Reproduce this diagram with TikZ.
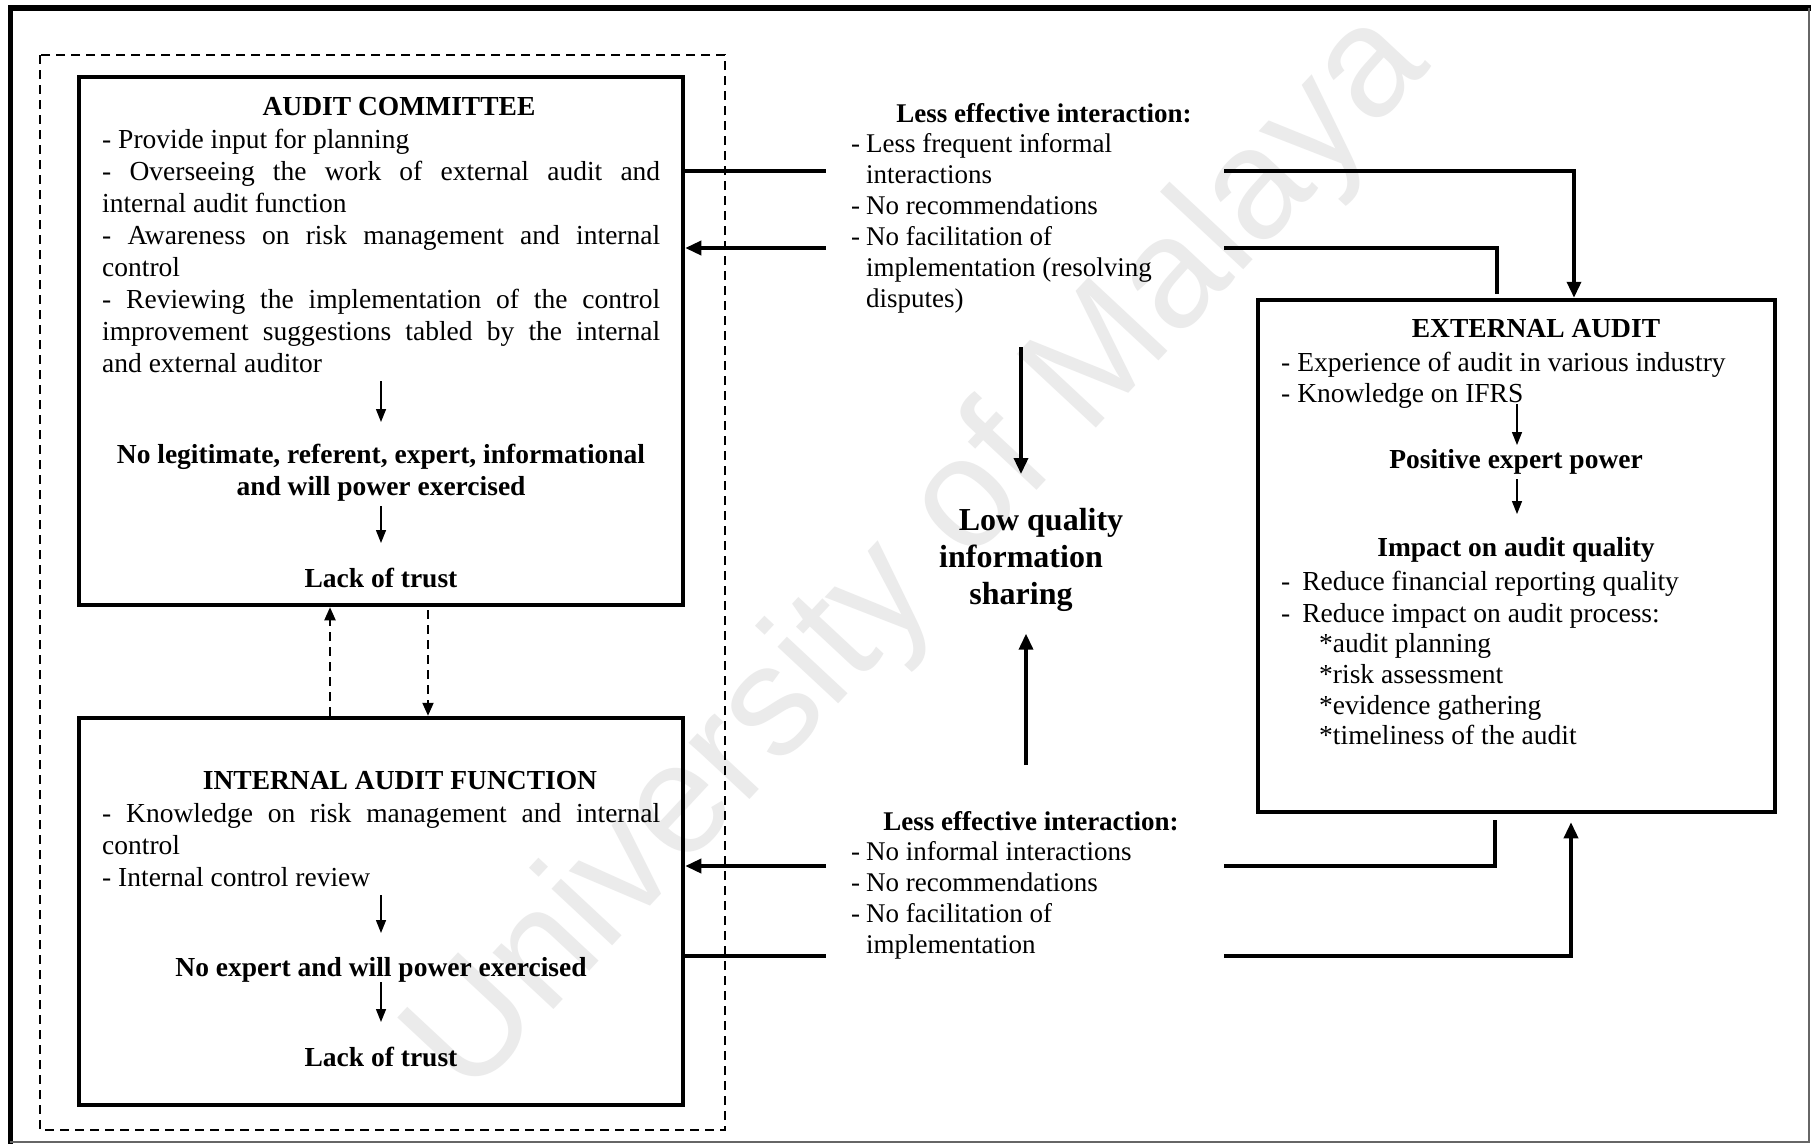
\documentclass[tikz,border=0pt]{standalone}
\usepackage{fontspec}
\setmainfont{Liberation Serif}
\newfontfamily\wmfont{Liberation Sans}
\usetikzlibrary{arrows.meta}

\tikzset{
  panel/.style={draw, line width=4.5pt, inner sep=0pt},
  conn/.style={line width=3.5pt},
  tip/.style={-{Triangle[length=16pt,width=14pt]}},
  flow/.style={line width=1.4pt, -{Triangle[length=13pt,width=10pt]}},
  dashlink/.style={line width=2pt, dash pattern=on 9pt off 6pt, -{Triangle[length=13pt,width=11pt]}},
  groupframe/.style={line width=2.2pt, dash pattern=on 9pt off 6pt},
  body/.style={font=\fontsize{27.5}{32}\selectfont, inner sep=0pt, anchor=base west},
  midbody/.style={font=\fontsize{27}{31}\selectfont, inner sep=0pt, anchor=base west},
  head/.style={font=\fontsize{27.5}{32}\selectfont\bfseries, inner sep=0pt, anchor=base},
}

\begin{document}
\begin{tikzpicture}[x=1pt,y=-1pt]
\useasboundingbox (0,0) rectangle (1811,1144);
\fill[white] (0,0) rectangle (1811,1144);

% watermark
\node[rotate=47, text=black!8, font=\wmfont\fontsize{157}{160}\selectfont, inner sep=0pt]
  (wm) at (921,556) {University of Malaya};

% page frame
\draw[line width=6pt] (10,8) -- (1811,8);
\draw[line width=5pt] (10,5) -- (10,1144);
\draw[line width=1.5pt, black!60] (1809,8) -- (1809,1142) -- (10,1142);

% dashed group around the two internal parties
\draw[groupframe] (40,55) rectangle (725,1130);

% panels
\node[panel, minimum width=604pt, minimum height=528pt] (ac) at (381,341) {};
\node[panel, minimum width=604pt, minimum height=387pt] (iaf) at (381,911.5) {};
\node[panel, minimum width=517pt, minimum height=512pt] (ea) at (1516.5,556) {};

% ---------- audit committee ----------
\node[head] (acT) at (399,115) {AUDIT COMMITTEE};
\node[body] (acL) at (102,148) {\begin{minipage}[t]{558pt}
\hyphenpenalty=10000 \tolerance=9999 \parskip=0pt
- Provide input for planning\par
- Overseeing the work of external audit and\linebreak internal audit function\par
- Awareness on risk management and internal\linebreak control\par
- Reviewing the implementation of the control\linebreak improvement suggestions tabled by the internal\linebreak and external auditor\par
\end{minipage}};
\coordinate (acA1) at (381,381);
\coordinate (acA2) at (381,422);
\draw[flow] (acA1) -- (acA2);
\node[head] (acP1) at (381,463) {No legitimate, referent, expert, informational};
\node[head] (acP2) at (381,495) {and will power exercised};
\coordinate (acA3) at (381,506);
\coordinate (acA4) at (381,543);
\draw[flow] (acA3) -- (acA4);
\node[head] (acTr) at (381,587) {Lack of trust};

% ---------- internal audit function ----------
\node[head] (iaT) at (400,789) {INTERNAL AUDIT FUNCTION};
\node[body] (iaL) at (102,822) {\begin{minipage}[t]{558pt}
\hyphenpenalty=10000 \tolerance=9999 \parskip=0pt
- Knowledge on risk management and internal\linebreak control\par
- Internal control review\par
\end{minipage}};
\coordinate (iaA1) at (381,895);
\coordinate (iaA2) at (381,933);
\draw[flow] (iaA1) -- (iaA2);
\node[head] (iaP) at (381,976) {No expert and will power exercised};
\coordinate (iaA3) at (381,982);
\coordinate (iaA4) at (381,1022);
\draw[flow] (iaA3) -- (iaA4);
\node[head] (iaTr) at (381,1066) {Lack of trust};

% ---------- external audit ----------
\node[head] (eaT) at (1536,337) {EXTERNAL AUDIT};
\node[body] (ea1) at (1281,371) {- Experience of audit in various industry};
\node[body] (ea2) at (1281,402) {- Knowledge on IFRS};
\coordinate (eaA1) at (1517,404);
\coordinate (eaA2) at (1517,445);
\draw[flow] (eaA1) -- (eaA2);
\node[head] (eaP) at (1516,468) {Positive expert power};
\coordinate (eaA3) at (1517,479);
\coordinate (eaA4) at (1517,514);
\draw[flow] (eaA3) -- (eaA4);
\node[head] (eaQ) at (1516,556) {Impact on audit quality};
\node[body] (ea3) at (1281,590) {-\hspace{12pt}Reduce financial reporting quality};
\node[body] (ea4) at (1281,622) {-\hspace{12pt}Reduce impact on audit process:};
\node[body] (ea5) at (1319,652) {*audit planning};
\node[body] (ea6) at (1319,683) {*risk assessment};
\node[body] (ea7) at (1319,714) {*evidence gathering};
\node[body] (ea8) at (1319,744) {*timeliness of the audit};

% ---------- interaction texts ----------
\node[head, font=\fontsize{27}{31}\selectfont\bfseries] (topH) at (1044,122) {Less effective interaction:};
\node[midbody] (topL) at (851,152) {\begin{minipage}[t]{360pt}
\makebox[15pt][l]{-}Less frequent informal\\
\hspace*{15pt}interactions\\
\makebox[15pt][l]{-}No recommendations\\
\makebox[15pt][l]{-}No facilitation of\\
\hspace*{15pt}implementation (resolving\\
\hspace*{15pt}disputes)
\end{minipage}};

\node[head, font=\fontsize{27}{31}\selectfont\bfseries] (botH) at (1031,830) {Less effective interaction:};
\node[midbody] (botL) at (851,860) {\begin{minipage}[t]{360pt}
\makebox[15pt][l]{-}No informal interactions\\
\makebox[15pt][l]{-}No recommendations\\
\makebox[15pt][l]{-}No facilitation of\\
\hspace*{15pt}implementation
\end{minipage}};

\node[font=\fontsize{32}{37}\selectfont\bfseries, align=center, inner sep=0pt, anchor=north]
  (lq) at (1021,508) {\hspace*{40pt}Low quality\\information\\sharing};

% ---------- connectors ----------
\coordinate (t1L) at (826,171);
\coordinate (t1R) at (1224,171);
\coordinate (t1C) at (1574,171);
\draw[conn] (ac.east |- t1L) -- (t1L);
\draw[conn, tip] (t1R) -- (t1C) -- (t1C |- ea.north);

\coordinate (t2C) at (1497,248);
\coordinate (t2R) at (1224,248);
\coordinate (t2L) at (826,248);
\draw[conn, shorten <=4pt] (t2C |- ea.north) -- (t2C) -- (t2R);
\draw[conn, tip] (t2L) -- (t2L -| ac.east);

\coordinate (b1C) at (1495,866);
\coordinate (b1R) at (1224,866);
\coordinate (b1L) at (826,866);
\draw[conn, shorten <=6pt] (b1C |- ea.south) -- (b1C) -- (b1R);
\draw[conn, tip] (b1L) -- (b1L -| iaf.east);

\coordinate (b2L) at (826,956);
\coordinate (b2R) at (1224,956);
\coordinate (b2C) at (1571,956);
\draw[conn] (iaf.east |- b2L) -- (b2L);
\draw[conn, tip, shorten >=8pt] (b2R) -- (b2C) -- (b2C |- ea.south);

% links between committee and internal audit
\coordinate (du) at (330,0);
\coordinate (dd) at (428,0);
\draw[dashlink] (du |- iaf.north) -- (du |- ac.south);
\draw[dashlink, shorten <=3pt] (dd |- ac.south) -- (dd |- iaf.north);

% arrows into the information-sharing outcome
\coordinate (mT) at (1021,347);
\coordinate (mB) at (1026,765);
\draw[conn, tip, shorten >=34pt] (mT) -- (mT |- lq.north);
\draw[conn, tip, shorten >=22pt] (mB) -- (mB |- lq.south);

\end{tikzpicture}
\end{document}
